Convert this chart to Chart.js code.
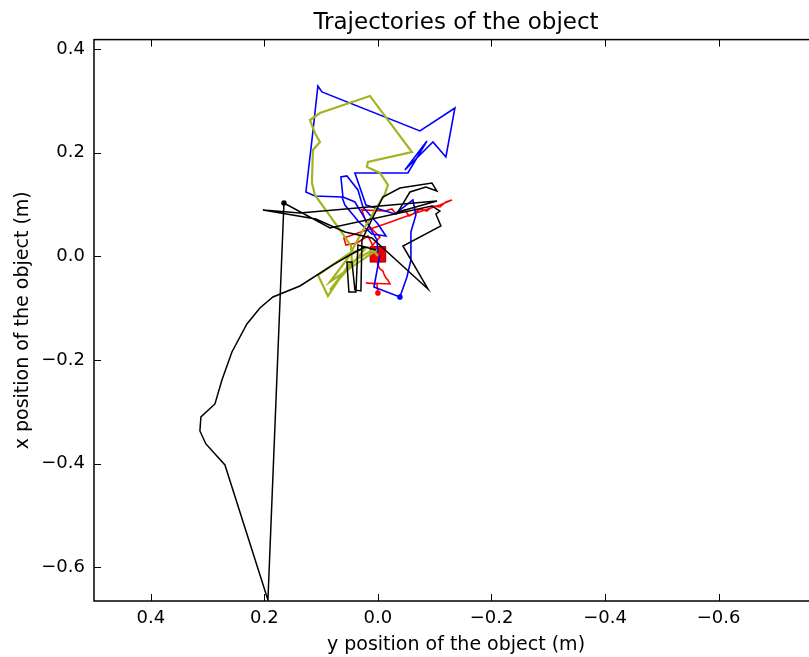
<!DOCTYPE html>
<html>
<head>
<meta charset="utf-8">
<script src="https://cdn.jsdelivr.net/npm/chart.js@4/dist/chart.umd.min.js"></script>
<style>
  html, body { margin: 0; padding: 0; background: #fff; overflow: hidden; }
  #wrap { width: 830px; height: 657px; }
</style>
</head>
<body>
<div id="wrap"><canvas id="c" width="830" height="657"></canvas></div>
<script>
// ---- data (x value = "y position", y value = "x position") ----
const blackX = [0.0035,0.0352,0.0387,0.0511,0.0546,0.0458,0.0405,0.0299,0.0282,-0.0088,-0.0387,-0.0951,-0.1039,-0.0845,-0.0564,-0.0352,-0.1039,0.1374,0.2025,0.1092,0.0581,0.0106,-0.0881,-0.0440,-0.1109,-0.1021,-0.1092,-0.0951,0.0845,0.1655,0.1937,0.2694,0.3029,0.3135,0.3117,0.2870,0.2747,0.2571,0.2307,0.2078,0.1849,0.1374,0.0792,0.0493,0.0229];
const blackY = [0.0124,0.0220,-0.0687,-0.0687,-0.0108,-0.0108,-0.0648,-0.0668,0.0317,0.1147,0.1320,0.1417,0.1263,0.1340,0.1243,0.0857,0.1069,0.0838,0.0896,0.0722,0.0471,0.0355,-0.0629,0.0201,0.0587,0.0819,0.0876,0.0973,0.0548,0.1031,-0.6633,-0.4027,-0.3621,-0.3370,-0.3100,-0.2849,-0.2386,-0.1845,-0.1305,-0.0996,-0.0784,-0.0571,-0.0166,0.0027,0.0181];

const blueX = [0,0.0018,0.0247,0.0405,0.0616,0.0652,0.0546,0.0352,0.0264,0,-0.0141,0.0106,0.0335,0.0581,0.0634,0.1109,0.1268,0.1162,0.1057,0.0986,-0.0740,-0.1356,-0.1197,-0.0969,-0.0475,-0.0863,-0.0528,0.0405,0.0211,-0.0299,-0.0616,-0.0669,-0.0581,-0.0581,-0.0511,-0.0387,0.0070,-0.0035];
const blueY = [0.0085,0.0317,0.0761,0.1050,0.1147,0.1533,0.1552,0.1282,0.0954,0.0625,0.0394,0.0432,0.0664,0.0992,0.1147,0.1166,0.1243,0.2247,0.3290,0.3174,0.2421,0.2865,0.1919,0.2208,0.1668,0.2228,0.1610,0.1610,0.0992,0.0819,0.1089,0.0799,0.0471,-0.0069,-0.0398,-0.0784,-0.0591,0.0027];

const greenX = [0,0.0088,0.0493,0.0880,0.1057,0.0493,0.0211,0.0845,0.0458,0.0475,0.0669,0.1109,0.1162,0.1145,0.1021,0.1109,0.1197,0.1021,0.0141,-0.0599,0.0176,0.0194,-0.0035,-0.0176,-0.0123,0.0070,0.0282,0.0528,0.0845,0.0018];
const greenY = [0.0008,0.0124,-0.0127,-0.0764,-0.0359,0.0066,0.0162,-0.0649,-0.0108,0.0201,0.0510,0.1185,0.1417,0.2054,0.2208,0.2382,0.2633,0.2768,0.3097,0.2015,0.1822,0.1726,0.1610,0.1378,0.1205,0.0857,0.0471,-0.0031,-0.0494,0.0124];

const redX = [0,0.0018,0.0211,-0.0211,-0.0176,-0.0141,-0.0106,-0.0088,-0.0035,0,0.0035,0.0123,-0.0035,0.0123,0.0211,0.0282,-0.0123,-0.0247,-0.0317,-0.0387,-0.0475,-0.0546,-0.0616,-0.0740,-0.0863,-0.0969,-0.1092,-0.1197,-0.1303,-0.1092,-0.0564,-0.0123,0.0352,0.0599,0.0564,0.0370,0.0176,0.0053];
const redY = [-0.0707,-0.0533,-0.0514,-0.0533,-0.0455,-0.0417,-0.0340,-0.0282,-0.0240,-0.0166,-0.0012,0.0181,0.0375,0.0548,0.0664,0.0896,0.0876,0.0915,0.0819,0.0857,0.0896,0.0780,0.0819,0.0915,0.0876,0.0973,0.0954,0.1050,0.1089,0.0992,0.0799,0.0625,0.0452,0.0355,0.0220,0.0259,0.0394,0.0124];

const targetX = [0.0];
const targetY = [0.004];

// index of the small dot marker on each path
const blackDot = 29, blueDot = 35, redDot = 0;

const xTickValues = [0.4, 0.2, 0.0, -0.2, -0.4, -0.6];
const xTickLabels = ['0.4', '0.2', '0.0', '\u22120.2', '\u22120.4', '\u22120.6'];
const yTickValues = [0.4, 0.2, 0.0, -0.2, -0.4, -0.6];
const yTickLabels = ['0.4', '0.2', '0.0', '\u22120.2', '\u22120.4', '\u22120.6'];

const toPts = (xs, ys) => xs.map((v, i) => ({x: v, y: ys[i]}));
const FONT = 'DejaVu Sans';

Chart.defaults.color = '#000';
Chart.defaults.font.family = FONT;

const framePlugin = {
  id: 'frame',
  afterDatasetsDraw(chart) {
    const {ctx, chartArea: a, scales} = chart;
    const xs = scales.x, ys = scales.y;
    ctx.save();
    ctx.strokeStyle = '#000';
    ctx.lineWidth = 1.5;
    ctx.strokeRect(a.left, a.top, a.right - a.left, a.bottom - a.top);
    ctx.lineWidth = 1;
    const L = 7;
    ctx.beginPath();
    xs.ticks.forEach(t => {
      const p = Math.round(xs.getPixelForValue(t.value)) + 0.5;
      ctx.moveTo(p, a.bottom); ctx.lineTo(p, a.bottom - L);
      ctx.moveTo(p, a.top); ctx.lineTo(p, a.top + L);
    });
    ys.ticks.forEach(t => {
      const p = Math.round(ys.getPixelForValue(t.value)) + 0.5;
      ctx.moveTo(a.left, p); ctx.lineTo(a.left + L, p);
      ctx.moveTo(a.right, p); ctx.lineTo(a.right - L, p);
    });
    ctx.stroke();
    ctx.restore();
  }
};

const dotRadius = (idx) => (c) => c.dataIndex === idx ? 2 : 0;

new Chart(document.getElementById('c'), {
  type: 'scatter',
  data: {
    datasets: [
      { data: toPts(blackX, blackY), showLine: true, borderColor: '#000000', backgroundColor: '#000000',
        borderWidth: 1.5, pointRadius: dotRadius(blackDot), pointHoverRadius: 0, tension: 0 },
      { data: toPts(greenX, greenY), showLine: true, borderColor: '#a2b41f', backgroundColor: '#a2b41f',
        borderWidth: 2.2, pointRadius: 0, tension: 0 },
      { data: toPts(blueX, blueY), showLine: true, borderColor: '#0000ff', backgroundColor: '#0000ff',
        borderWidth: 1.6, pointRadius: dotRadius(blueDot), tension: 0 },
      { data: toPts(redX, redY), showLine: true, borderColor: '#ff0000', backgroundColor: '#ff0000',
        borderWidth: 1.6, pointRadius: dotRadius(redDot), tension: 0 },
      { data: toPts(targetX, targetY), showLine: false, pointStyle: 'rect', pointRadius: 11,
        backgroundColor: '#ee0000', borderColor: '#990000', borderWidth: 1 }
    ]
  },
  options: {
    responsive: false,
    animation: false,
    devicePixelRatio: 1,
    layout: { padding: { left: 0, right: 12, top: 0, bottom: 0 }, autoPadding: false },
    plugins: {
      legend: { display: false },
      tooltip: { enabled: false },
      title: {
        display: true, text: 'Trajectories of the object', fullSize: false,
        font: { family: FONT, size: 23, weight: 'normal' }, color: '#000',
        padding: { top: 9, bottom: 3 }
      }
    },
    scales: {
      x: {
        type: 'linear', reverse: true, min: -0.775, max: 0.5,
        grid: { display: false, drawTicks: false }, border: { display: false },
        afterBuildTicks: (s) => { s.ticks = xTickValues.map(v => ({value: v})); },
        afterFit: (s) => { s.height = 56; },
        ticks: { padding: 7, maxRotation: 0, autoSkip: false, font: { size: 18 }, color: '#000',
                 callback: (v, i) => xTickLabels[i] },
        title: { display: true, text: 'y position of the object (m)', font: { size: 19 }, color: '#000',
                 padding: { top: 0, bottom: 1 } }
      },
      y: {
        type: 'linear', min: -0.6653, max: 0.4185,
        grid: { display: false, drawTicks: false }, border: { display: false },
        afterBuildTicks: (s) => { s.ticks = yTickValues.map(v => ({value: v})); },
        afterFit: (s) => { s.width = 94; },
        ticks: { padding: 9, autoSkip: false, font: { size: 18 }, color: '#000',
                 callback: (v, i) => yTickLabels[i] },
        title: { display: true, text: 'x position of the object (m)', font: { size: 19 }, color: '#000',
                 padding: { top: 12, bottom: 0 } }
      }
    }
  },
  plugins: [framePlugin]
});
</script>
</body>
</html>
